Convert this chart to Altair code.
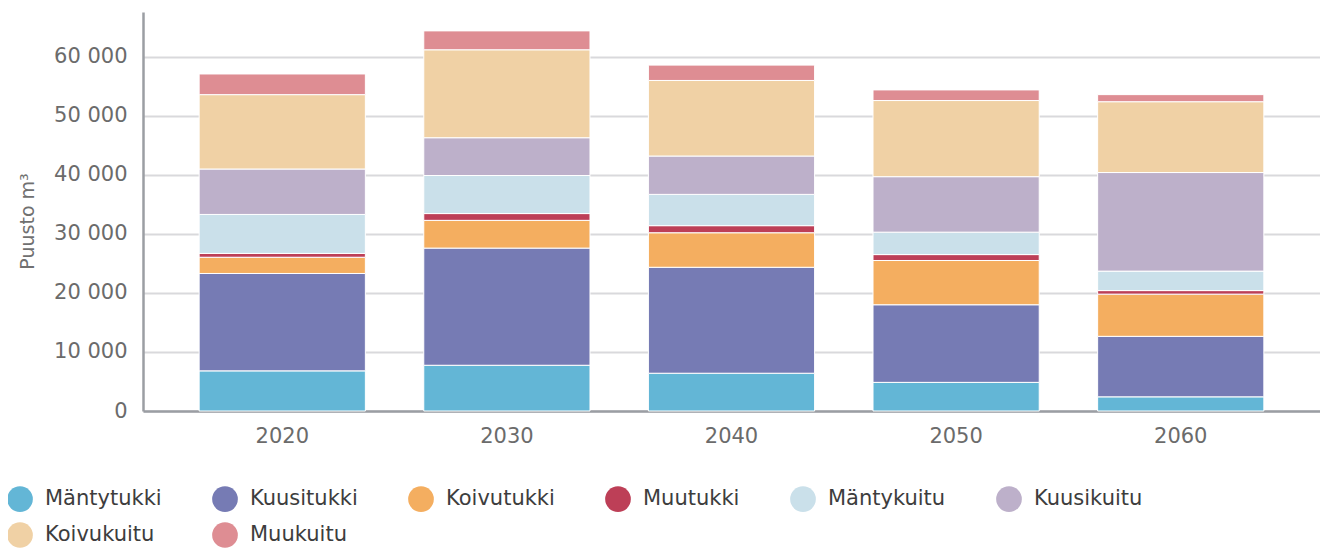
import altair as alt
import pandas as pd

years = ["2020", "2030", "2040", "2050", "2060"]
series = ["Mäntytukki", "Kuusitukki", "Koivutukki", "Muutukki",
          "Mäntykuitu", "Kuusikuitu", "Koivukuitu", "Muukuitu"]
colors = ["#63b6d6", "#767bb4", "#f4ae60", "#bd3f57",
          "#cae0ea", "#bdb0ca", "#f0d1a5", "#de8d93"]

mantytukki = [6800, 7750, 6400, 4850, 2400]
kuusitukki = [16500, 19850, 17950, 13150, 10250]
koivutukki = [2750, 4700, 5850, 7500, 7150]
muutukki = [650, 1150, 1200, 1000, 600]
mantykuitu = [6600, 6450, 5300, 3800, 3300]
kuusikuitu = [7700, 6400, 6500, 9400, 16700]
koivukuitu = [12600, 14900, 12800, 12900, 12000]
muukuitu = [3500, 3200, 2600, 1800, 1200]

values = [mantytukki, kuusitukki, koivutukki, muutukki,
          mantykuitu, kuusikuitu, koivukuitu, muukuitu]

rows = []
for si, (name, vals) in enumerate(zip(series, values)):
    for y, v in zip(years, vals):
        rows.append({"vuosi": y, "laji": name, "puusto": v, "jarjestys": si})
df = pd.DataFrame(rows)

FONT = "DejaVu Sans"

chart = alt.Chart(df).mark_bar(stroke="white", strokeWidth=1).encode(
    x=alt.X("vuosi:N", title=None,
            scale=alt.Scale(paddingInner=0.26, paddingOuter=0.25),
            axis=alt.Axis(labelAngle=0, labelFontSize=21, labelFont=FONT,
                          labelColor="#6b6b6b", labelPadding=14,
                          ticks=False, tickSize=0, grid=False,
                          domainColor="#9b9ea3", domainWidth=2.5)),
    y=alt.Y("sum(puusto):Q",
            scale=alt.Scale(domain=[0, 67600], nice=False),
            axis=alt.Axis(title="Puusto m³", titleFontSize=19, titleFont=FONT,
                          titleFontWeight="normal", titleColor="#707070",
                          titleAngle=-90, titleX=-116, titleY=209,
                          titleAlign="center", titleBaseline="middle",
                          values=[0, 10000, 20000, 30000, 40000, 50000, 60000],
                          labelExpr="replace(format(datum.value, ','), ',', ' ')",
                          labelFontSize=21, labelFont=FONT, labelColor="#6b6b6b",
                          labelPadding=16, ticks=False, tickSize=0,
                          grid=True, gridColor="#d9d9dc", gridWidth=2,
                          domainColor="#9b9ea3", domainWidth=2.5)),
    color=alt.Color("laji:N",
                    scale=alt.Scale(domain=series, range=colors),
                    legend=alt.Legend(title=None, orient="none",
                                      legendX=-136, legendY=474,
                                      direction="horizontal", columns=6,
                                      symbolType="circle", symbolSize=660,
                                      symbolStrokeWidth=0, symbolOpacity=1,
                                      labelFontSize=21, labelFont=FONT,
                                      labelColor="#3d3d3d", labelOffset=12,
                                      labelLimit=400, columnPadding=50,
                                      rowPadding=10, padding=0)),
    order=alt.Order("jarjestys:Q", sort="ascending"),
).properties(
    width=1177,
    height=399,
    autosize=alt.AutoSizeParams(type="none"),
    padding={"left": 135, "top": 4, "right": 0, "bottom": 138},
).configure_view(stroke=None)

chart.save("out.html", embed_options={"renderer": "svg", "actions": False})
